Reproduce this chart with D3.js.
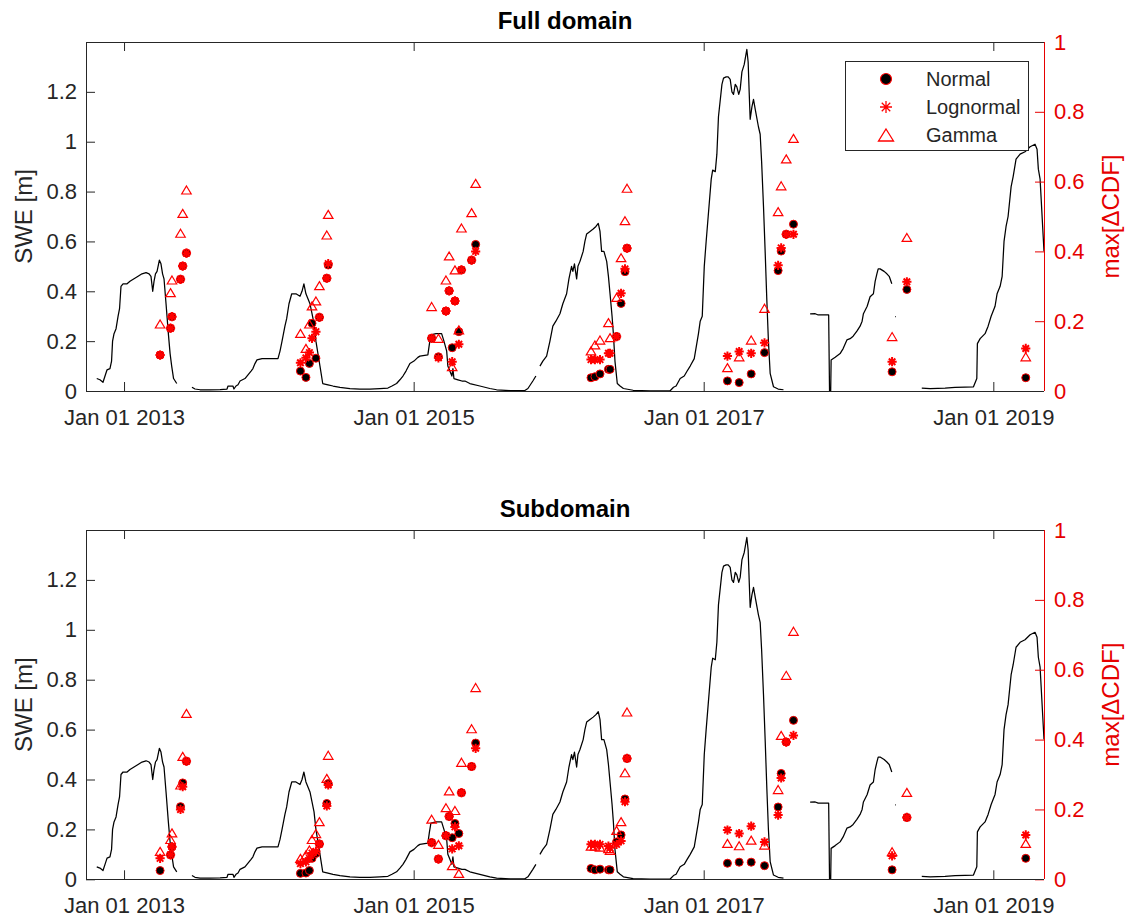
<!DOCTYPE html>
<html><head><meta charset="utf-8">
<script src="https://cdn.jsdelivr.net/npm/d3@7"></script>
<style>
body{margin:0;background:#fff}
svg{display:block}
text{font-family:"Liberation Sans",Arial,Helvetica,sans-serif}
</style>
</head><body>
<svg id="c" width="1127" height="920"></svg>
<script>
// ---------------- DATA ----------------
// SWE time series (decimal year, metres); null marks a gap in the record
const sweYears = [
2012.812,2012.834,2012.855,2012.869,2012.883,2012.903,2012.914,2012.921,2012.931,2012.945,2012.959,2012.969,2012.979,2012.993,
2013.021,2013.041,2013.069,2013.097,2013.124,2013.152,2013.173,2013.186,2013.198,2013.207,2013.217,2013.228,2013.244,2013.255,
2013.266,2013.276,2013.290,2013.306,2013.318,2013.329,2013.342,2013.364,2013.400,
2013.469,2013.490,2013.525,2013.594,2013.663,2013.711,2013.718,2013.752,2013.759,2013.773,2013.787,2013.801,2013.835,2013.856,
2013.877,2013.890,2013.904,2013.918,2013.953,2014.063,2014.077,2014.091,2014.101,2014.111,2014.123,2014.139,2014.158,2014.187,
2014.215,2014.229,2014.242,2014.256,2014.270,2014.284,2014.298,2014.312,2014.325,2014.339,2014.353,2014.372,2014.408,2014.443,
2014.491,2014.560,2014.629,2014.698,2014.767,2014.822,2014.850,2014.882,2014.905,2014.926,2014.947,2014.974,2015.002,2015.029,
2015.043,2015.098,2015.109,2015.119,2015.154,2015.193,2015.209,2015.228,2015.236,2015.250,2015.264,2015.271,2015.278,2015.306,
2015.333,2015.354,2015.388,2015.457,2015.526,2015.573,2015.664,2015.768,2015.789,2015.823,2015.844,2015.858,2015.872,2015.892,
2015.918,2015.941,2015.961,2015.982,2016.010,2016.030,2016.056,2016.072,2016.090,2016.099,2016.110,2016.125,2016.134,2016.148,
2016.170,2016.182,2016.194,2016.217,2016.239,2016.258,2016.274,2016.286,2016.297,2016.313,2016.332,2016.344,2016.355,2016.369,
2016.378,2016.389,2016.405,2016.424,2016.447,2016.514,2016.631,2016.769,2016.792,2016.810,2016.838,2016.866,2016.886,2016.907,
2016.935,2016.964,2016.976,2016.990,2017.004,2017.017,2017.031,2017.052,2017.062,2017.080,2017.091,2017.102,2017.126,2017.137,
2017.155,2017.169,2017.183,2017.195,2017.206,2017.218,2017.229,2017.242,2017.252,2017.264,2017.280,2017.298,2017.307,2017.314,
2017.321,2017.333,2017.344,2017.356,2017.378,2017.390,2017.400,2017.413,2017.425,2017.436,2017.447,2017.459,2017.482,2017.514,
2017.551,2017.650,
2017.735,2017.770,2017.791,2017.851,2017.863,2017.869,2017.877,2017.880,2017.908,2017.942,2017.963,2017.989,2018.011,2018.032,
2018.058,2018.080,2018.094,2018.103,2018.129,2018.149,2018.172,2018.184,2018.196,2018.205,2018.218,2018.246,2018.265,2018.281,
2018.299,2018.310,2018.321,2018.326,2018.400,
2018.506,2018.564,2018.667,2018.736,2018.805,2018.863,2018.886,2018.890,2018.909,2018.943,2018.964,2018.985,2019.012,2019.026,
2019.047,2019.061,2019.074,2019.088,2019.102,2019.123,2019.137,2019.157,2019.185,2019.219,2019.254,2019.288,2019.302,2019.311,
2019.323,2019.350
];
const sweValues = [
0.05,0.045,0.035,0.06,0.085,0.09,0.12,0.2,0.23,0.25,0.3,0.33,0.42,0.43,
0.43,0.44,0.45,0.46,0.47,0.475,0.47,0.46,0.40,0.44,0.47,0.48,0.525,0.51,
0.47,0.45,0.35,0.23,0.15,0.1,0.05,0.03,null,
0.015,0.008,0.005,0.005,0.006,0.008,0.02,0.02,0.008,0.02,0.025,0.04,0.05,0.065,
0.08,0.09,0.11,0.125,0.13,0.13,0.16,0.2,0.23,0.26,0.29,0.35,0.39,0.39,
0.38,0.4,0.43,0.39,0.37,0.35,0.31,0.27,0.2,0.15,0.1,0.03,0.025,0.02,
0.015,0.01,0.008,0.008,0.01,0.012,0.02,0.03,0.045,0.06,0.08,0.11,0.12,0.135,
0.14,0.145,0.19,0.225,0.23,0.23,0.2,0.16,0.1,0.08,0.06,0.09,0.05,0.045,
0.04,0.04,0.03,0.02,0.01,0.005,0.002,0.002,0.01,0.04,0.06,null,0.1,0.12,
0.14,0.2,0.26,0.28,0.31,0.35,0.39,0.45,0.5,0.48,0.51,0.45,0.5,0.52,
0.56,0.6,0.63,0.64,0.65,0.66,0.672,0.64,0.56,0.56,0.52,0.46,0.39,0.3,
0.23,0.12,0.03,0.02,0.01,0.003,0.001,0.001,0.015,0.02,0.05,0.06,0.08,0.1,
0.13,0.23,0.28,0.3,0.5,0.6,0.7,0.85,0.886,0.88,0.95,1.1,1.23,1.255,
1.26,1.26,1.25,1.2,1.19,1.23,1.22,1.19,1.21,1.28,1.31,1.37,1.32,1.2,
1.09,1.14,1.17,1.13,1.06,1.03,0.92,0.74,0.55,0.365,0.2,0.071,0.017,0.008,
0.005,null,
0.309,0.31,0.305,0.305,0.305,0.0,0.0,0.124,0.135,0.15,0.17,0.205,0.21,0.22,
0.24,0.26,0.28,0.31,0.34,0.378,0.39,0.44,0.47,0.49,0.49,0.48,0.47,0.46,
0.43,null,0.298,0.298,null,
0.012,0.01,0.012,0.015,0.016,0.017,0.05,0.19,0.21,0.23,0.26,0.3,0.34,0.39,
0.42,0.46,0.6,0.66,0.7,0.82,0.86,0.93,0.95,0.96,0.98,0.99,0.97,0.89,
0.85,0.56
];

// Dates (decimal year) at which the fitted distributions were compared
const sampleYears = [
2013.249,2013.321,2013.331,2013.390,2013.405,2013.431,
2014.218,2014.256,2014.280,2014.298,2014.325,2014.349,2014.400,2014.410,
2015.124,2015.171,2015.223,2015.245,2015.266,2015.285,2015.312,2015.330,2015.400,2015.428,
2016.224,2016.251,2016.286,2016.344,2016.355,2016.400,2016.431,2016.458,2016.472,
2017.164,2017.245,2017.328,2017.420,2017.514,2017.535,2017.570,2017.620,
2018.301,2018.403,
2019.224
];

// max[ΔCDF] — Full domain
const fullNormal = [
0.103,0.18,0.213,0.32,0.358,0.395,
0.057,0.039,0.079,0.194,0.094,0.211,0.323,0.361,
0.151,0.098,0.229,0.287,0.124,0.258,0.17,0.347,0.375,0.42,
0.038,0.041,0.049,0.062,0.062,0.156,0.251,0.342,0.409,
0.029,0.024,0.049,0.11,0.345,0.401,0.449,0.478,
0.055,0.291,
0.038
];
const fullLognormal = [
0.103,0.18,0.213,0.32,0.358,0.395,
0.081,0.095,0.11,0.151,0.17,0.211,0.323,0.365,
0.151,0.095,0.229,0.287,0.084,0.258,0.134,0.347,0.375,0.40,
0.09,0.09,0.09,0.108,0.108,0.156,0.28,0.35,0.409,
0.1,0.113,0.108,0.138,0.36,0.41,0.449,0.449,
0.084,0.313,
0.122
];
const fullGamma = [
0.192,0.282,0.318,0.452,0.509,0.576,
0.165,0.122,0.192,0.244,0.258,0.302,0.447,0.506,
0.242,0.151,0.318,0.387,0.07,0.347,0.175,0.467,0.511,0.595,
0.115,0.132,0.146,0.196,0.153,0.268,0.382,0.488,0.581,
0.067,0.098,0.146,0.237,0.514,0.588,0.665,0.724,
0.156,0.44,
0.098
];

// max[ΔCDF] — Subdomain
const subNormal = [
0.025,0.07,0.093,0.208,0.276,0.338,
0.017,0.018,0.025,0.06,0.074,0.101,0.217,0.274,
0.105,0.058,0.125,0.18,0.119,0.16,0.131,0.248,0.323,0.39,
0.031,0.027,0.029,0.027,0.027,0.107,0.127,0.23,0.346,
0.046,0.049,0.049,0.039,0.207,0.303,0.393,0.455,
0.027,0.177,
0.06
];
const subLognormal = [
0.06,0.07,0.093,0.2,0.265,0.338,
0.045,0.05,0.06,0.075,0.08,0.101,0.21,0.27,
0.105,0.058,0.125,0.18,0.087,0.15,0.096,0.248,0.323,0.375,
0.1,0.1,0.1,0.095,0.09,0.1,0.11,0.222,0.346,
0.141,0.131,0.152,0.107,0.184,0.29,0.393,0.412,
0.067,0.177,
0.127
];
const subGamma = [
0.08,0.114,0.133,0.27,0.352,0.475,
0.06,0.07,0.084,0.114,0.131,0.165,0.289,0.355,
0.172,0.1,0.205,0.253,0.039,0.197,0.017,0.335,0.431,0.549,
0.095,0.095,0.092,0.088,0.083,0.14,0.165,0.305,0.479,
0.103,0.096,0.112,0.098,0.257,0.412,0.584,0.71,
0.079,0.249,
0.103
];

const xTickYears = [2013, 2015, 2017, 2019];
const xDomainYears = [2012.738, 2019.350];
const sweTicks = [0, 0.2, 0.4, 0.6, 0.8, 1, 1.2];
const sweDomain = [0, 1.4];
const cdfTicks = [0, 0.2, 0.4, 0.6, 0.8, 1];
const cdfDomain = [0, 1];
const panelTitles = ["Full domain", "Subdomain"];
const legendLabels = ["Normal", "Lognormal", "Gamma"];
const leftLabel = "SWE [m]";
const rightLabel = "max[\u0394CDF]";

// ---------------- DRAWING ----------------
const AX = "#262626", RED = "#ff0000", RAX = "#e60000";
const FONT_TICK = 22, FONT_LABEL = 24, FONT_TITLE = 24, FONT_LEG = 20;
const L = 86, R = 1044;
const svg = d3.select("#c");

function toDate(y) {
  const yr = Math.floor(y);
  const a = Date.UTC(yr, 0, 1), b = Date.UTC(yr + 1, 0, 1);
  return new Date(a + (y - yr) * (b - a));
}

const x = d3.scaleUtc().domain(xDomainYears.map(toDate)).range([L, R]);
const xTicks = xTickYears.map(y => new Date(Date.UTC(y, 0, 1)));
const swe = sweYears.map((t, i) => ({ t: toDate(t), v: sweValues[i] }));

const starPath = s => { const d = s * Math.SQRT1_2; return `M${-s},0H${s}M0,${-s}V${s}M${-d},${-d}L${d},${d}M${-d},${d}L${d},${-d}`; };
const triPath = (w, h) => `M0,${-h/2}L${w/2},${h/2}L${-w/2},${h/2}Z`;

const panels = [
  { title: panelTitles[0], top: 42, bottom: 391, n: fullNormal, l: fullLognormal, g: fullGamma, legend: true },
  { title: panelTitles[1], top: 530, bottom: 879.3, n: subNormal, l: subLognormal, g: subGamma, legend: false }
];

function styleAxis(sel, color) {
  sel.attr("font-size", null).attr("font-family", null);
  sel.select(".domain").remove();
  sel.selectAll(".tick line").attr("stroke", color).attr("stroke-width", 1);
  sel.selectAll(".tick text").attr("fill", color).style("font-size", FONT_TICK + "px");
}

panels.forEach(p => {
  const yL = d3.scaleLinear().domain(sweDomain).range([p.bottom, p.top]);
  const yR = d3.scaleLinear().domain(cdfDomain).range([p.bottom, p.top]);
  const g = svg.append("g");

  // SWE line
  g.append("path").datum(swe)
    .attr("fill", "none").attr("stroke", "#000").attr("stroke-width", 1.25)
    .attr("stroke-linejoin", "round")
    .attr("d", d3.line().defined(d => d.v != null).x(d => x(d.t)).y(d => yL(d.v)));

  // axes
  g.append("g").attr("transform", `translate(${L},0)`)
    .call(d3.axisLeft(yL).tickValues(sweTicks).tickSize(-9).tickPadding(9).tickFormat(d3.format("~g")))
    .call(s => styleAxis(s, AX));
  g.append("g").attr("transform", `translate(0,${p.bottom})`)
    .call(d3.axisBottom(x).tickValues(xTicks).tickSize(-9).tickPadding(18.5).tickFormat(d3.utcFormat("%b %d %Y")))
    .call(s => styleAxis(s, AX));
  g.append("g").attr("transform", `translate(0,${p.top})`)
    .call(d3.axisTop(x).tickValues(xTicks).tickSize(-9).tickFormat(""))
    .call(s => styleAxis(s, AX));
  g.append("g").attr("transform", `translate(${R},0)`)
    .call(d3.axisRight(yR).tickValues(cdfTicks).tickSize(-9).tickPadding(10).tickFormat(d3.format("~g")))
    .call(s => styleAxis(s, RAX));

  // box
  const box = g.append("g").attr("shape-rendering", "crispEdges").attr("stroke-width", 1);
  box.append("line").attr("x1", L).attr("x2", R).attr("y1", p.top).attr("y2", p.top).attr("stroke", AX);
  box.append("line").attr("x1", L).attr("x2", R).attr("y1", p.bottom).attr("y2", p.bottom).attr("stroke", AX);
  box.append("line").attr("x1", L).attr("x2", L).attr("y1", p.top).attr("y2", p.bottom).attr("stroke", AX);
  box.append("line").attr("x1", R).attr("x2", R).attr("y1", p.top).attr("y2", p.bottom).attr("stroke", RAX);

  // markers
  const pts = arr => sampleYears.map((t, i) => ({ t: toDate(t), v: arr[i] }));
  g.append("g").selectAll("circle").data(pts(p.n)).join("circle")
    .attr("cx", d => x(d.t)).attr("cy", d => yR(d.v)).attr("r", 4)
    .attr("fill", "#000").attr("stroke", RED).attr("stroke-width", 1);
  g.append("g").selectAll("path").data(pts(p.l)).join("path")
    .attr("transform", d => `translate(${x(d.t)},${yR(d.v)})`)
    .attr("d", starPath(4.6)).attr("fill", "none").attr("stroke", RED).attr("stroke-width", 2);
  g.append("g").selectAll("path").data(pts(p.g)).join("path")
    .attr("transform", d => `translate(${x(d.t)},${yR(d.v)})`)
    .attr("d", triPath(9.5, 8)).attr("fill", "none").attr("stroke", RED).attr("stroke-width", 1.2);

  // title
  g.append("text").attr("x", (L + R) / 2).attr("y", p.top - 13).attr("text-anchor", "middle")
    .attr("font-weight", "bold").style("font-size", FONT_TITLE + "px").attr("fill", "#000").text(p.title);

  // axis labels
  const mid = (p.top + p.bottom) / 2;
  g.append("text").attr("transform", `translate(31.5,${mid}) rotate(-90)`).attr("text-anchor", "middle")
    .style("font-size", FONT_LABEL + "px").attr("fill", AX).text(leftLabel);
  g.append("text").attr("transform", `translate(1119,${mid}) rotate(-90)`).attr("text-anchor", "middle")
    .style("font-size", FONT_LABEL + "px").attr("fill", RAX).text(rightLabel);

  // legend
  if (p.legend) {
    const lg = g.append("g");
    lg.append("rect").attr("x", 845.5).attr("y", 61.5).attr("width", 183).attr("height", 89)
      .attr("fill", "#fff").attr("stroke", AX).attr("stroke-width", 1);
    const rows = [79, 107, 135];
    lg.append("circle").attr("cx", 886).attr("cy", rows[0]).attr("r", 5.5)
      .attr("fill", "#000").attr("stroke", RED).attr("stroke-width", 1.2);
    lg.append("path").attr("transform", `translate(886,${rows[1]})`).attr("d", starPath(6))
      .attr("fill", "none").attr("stroke", RED).attr("stroke-width", 1.3);
    lg.append("path").attr("transform", `translate(886,${rows[2]})`).attr("d", triPath(15, 12))
      .attr("fill", "none").attr("stroke", RED).attr("stroke-width", 1.3);
    lg.selectAll("text.leg").data(legendLabels).join("text").attr("class", "leg")
      .attr("x", 926).attr("y", (d, i) => rows[i]).attr("dy", "0.35em")
      .style("font-size", FONT_LEG + "px").attr("fill", AX).text(d => d);
  }
});
</script>
</body></html>
